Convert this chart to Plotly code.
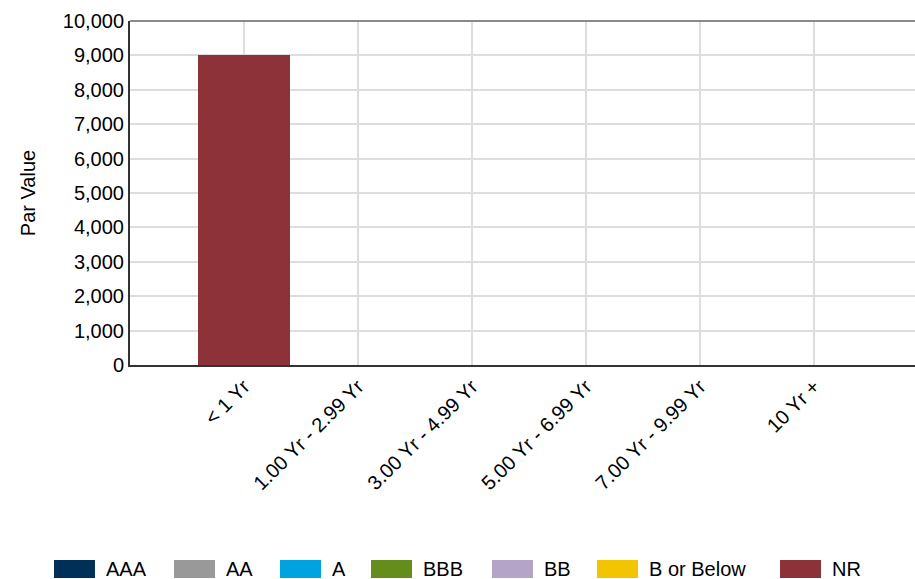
import plotly.graph_objects as go

categories = ["< 1 Yr", "1.00 Yr - 2.99 Yr", "3.00 Yr - 4.99 Yr", "5.00 Yr - 6.99 Yr",
              "7.00 Yr - 9.99 Yr", "10 Yr +"]
series_names = ["AAA", "AA", "A", "BBB", "BB", "B or Below", "NR"]
aaa = [0, 0, 0, 0, 0, 0]
aa = [0, 0, 0, 0, 0, 0]
a = [0, 0, 0, 0, 0, 0]
bbb = [0, 0, 0, 0, 0, 0]
bb = [0, 0, 0, 0, 0, 0]
b_or_below = [0, 0, 0, 0, 0, 0]
nr = [9000, 0, 0, 0, 0, 0]
series_values = [aaa, aa, a, bbb, bb, b_or_below, nr]
colors = ["#003057", "#999999", "#00A3E0", "#658D1B", "#B4A5C8", "#F2C500", "#8C3238"]
y_ticks = [0, 1000, 2000, 3000, 4000, 5000, 6000, 7000, 8000, 9000, 10000]

FONT = "Liberation Sans, Arial, sans-serif"
W, H = 915, 579
L, R, T, B = 130, 0, 21, 214
PW, PH = W - L - R, H - T - B

fig = go.Figure()
for name, vals, col in zip(series_names, series_values, colors):
    fig.add_trace(go.Bar(x=categories, y=vals, name=name, marker_color=col,
                         marker_line_width=0, showlegend=False))

def px_x(px):
    return (px - L) / PW

def px_y(py):
    return (H - B - py) / PH

# custom legend (swatch rectangles + labels)
legend_swatch_x = [54, 174, 280, 371, 492, 597, 780]
shapes = []
annotations = []
for name, col, sx in zip(series_names, colors, legend_swatch_x):
    shapes.append(dict(type="rect", xref="paper", yref="paper",
                       x0=px_x(sx), x1=px_x(sx + 41), y0=px_y(578), y1=px_y(560),
                       fillcolor=col, line_width=0))
    annotations.append(dict(xref="paper", yref="paper", x=px_x(sx + 50), y=px_y(569),
                            text=name, showarrow=False, xanchor="left", yanchor="middle",
                            font=dict(family=FONT, size=20, color="#000000")))
# top border
shapes.append(dict(type="line", xref="paper", yref="paper", x0=0, x1=1, y0=1, y1=1,
                   line=dict(color="#8a8a8a", width=2)))

fig.update_layout(
    width=W, height=H,
    margin=dict(l=L, r=R, t=T, b=B),
    barmode="stack", bargap=0.2,
    plot_bgcolor="#ffffff", paper_bgcolor="#ffffff",
    font=dict(family=FONT, size=20, color="#000000"),
    showlegend=False,
    shapes=shapes, annotations=annotations,
    xaxis=dict(range=[-1.0, 5.886], tickangle=-45, showgrid=True, gridcolor="#dddddd",
               gridwidth=2, showline=True, linecolor="#333333", linewidth=2,
               ticks="", tickfont=dict(family=FONT, size=20, color="#000000"), fixedrange=True),
    yaxis=dict(range=[0, 10000], tickvals=y_ticks, tickformat=",d", showgrid=True,
               gridcolor="#dddddd", gridwidth=2, showline=True, linecolor="#333333",
               linewidth=2, ticks="", ticklabelstandoff=0, zeroline=False,
               tickfont=dict(family=FONT, size=20, color="#000000"),
               title=dict(text="Par Value", standoff=22,
                          font=dict(family=FONT, size=20, color="#000000"))),
)

fig.write_html("out.html", config={"displayModeBar": False},
               post_script="document.body.style.margin='0';document.body.style.overflow='hidden';")
